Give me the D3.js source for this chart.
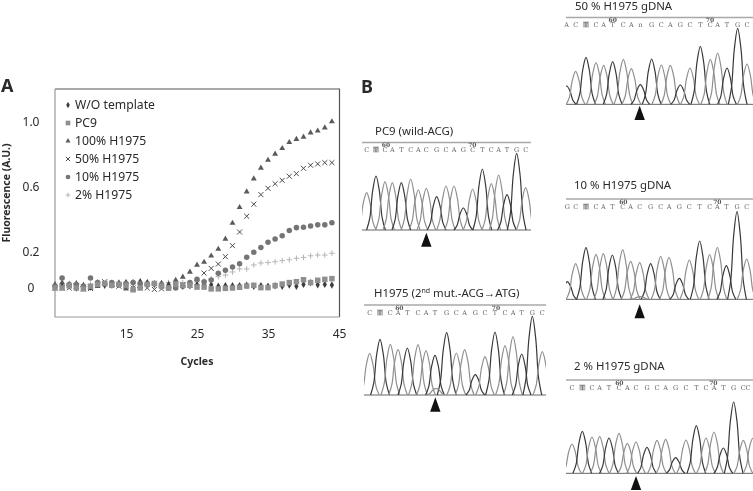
<!DOCTYPE html>
<html><head><meta charset="utf-8">
<script src="https://cdn.jsdelivr.net/npm/d3@7"></script>
<style>html,body{margin:0;padding:0;background:#fff}svg{display:block;filter:blur(0.3px)}text{font-family:"Noto Sans",sans-serif;fill:#2a2a2a}</style>
</head><body><div id="c"></div>
<script>
const firstCycle = 5;
const xTicks = [15, 25, 35, 45];
const yTicks = [0, 0.2, 0.6, 1.0];
const yTickLabels = ["0", "0.2", "0.6", "1.0"];

const seriesNames = ["W/O template", "PC9", "100% H1975", "50% H1975", "10% H1975", "2% H1975"];
// cycles 5..44
const woTemplate = [.005,.01,.012,.0,.01,.005,.02,.015,.02,.02, .03,.03,.035,.03,.02,.025,.02,.015,.01,.012, .015,.02,.018,.01,.012,.012,.012,.015,.01,.012, .01,.012,.01,.016,.01,.02,.03,.018,.02,.017];
const pc9Values = [.0,.0,.012,.0,-.005,.01,.02,.025,.015,.02, .015,-.01,.0,.02,.025,.01,.0,.02,.015,.015, .005,.005,-.005,-.005,-.002,.0,.004,.011,.015,.002, .002,.013,.022,.03,.035,.046,.03,.043,.048,.052];
const h100 = [.02,.03,.02,.025,.015,.0,.01,.02,.02,.03, -.005,-.005,.01,.02,.025,.01,.012,.044,.061,.089, .128,.144,.179,.218,.28,.378,.475,.571,.651,.717, .766,.803,.838,.875,.894,.908,.934,.946,.965,1.002];
const h50 = [.0,.0,.0,.01,-.005,-.003,.02,.035,.02,.01, .01,.0,.015,.0,-.008,-.005,.0,.02,.02,.015, .03,.083,.109,.133,.174,.239,.323,.42,.494,.553, .592,.62,.641,.666,.682,.715,.734,.742,.75,.75];
const h10 = [.01,.055,.02,.02,.01,.055,.03,.025,.03,.02, .025,.03,.025,.02,.025,.02,.0,.0,.01,.03, .048,.035,.044,.082,.098,.117,.135,.171,.198,.228, .26,.28,.3,.332,.35,.352,.36,.367,.367,.38];
const h2 = [.015,.02,.025,.025,.02,.02,.035,.02,.01,.015, .03,.03,.02,.025,.02,.015,.03,.025,.03,.02, .033,.039,.05,.063,.072,.089,.106,.106,.128,.139, .141,.146,.152,.157,.165,.17,.179,.183,.183,.193];

// chromatograms: scan position of each peak, peak signal, called base
const pc9Scan = [20,48,75,97,124,152,175,199,230,258,282,310,338,367,394,416,441,470,497];
const pc9Signal = [112,162,145,142,142,153,120,125,100,132,132,66,123,183,139,165,106,230,127];
const pc9Bases = "CTCATCACGCAGCTCATGC";
const h1975Scan = [29,60,91,114,142,174,198,225,260,289,314,346,375,405,435,459,485,517,547];
const h1975Signal = [125,167,152,137,141,151,133,119,188,126,136,61,115,189,148,175,123,236,130];
const h1975Bases = "CTCATCATGCAGCTCATGC";
const g50Scan = [20,47,78,108,131,158,190,214,241,275,304,331,361,390,421,451,473,501,533,561];
const g50Signal = [55,99,141,125,117,128,135,107,59,136,118,117,58,109,174,135,154,109,228,121];
const g50Bases = "GCTCATCANGCAGCTCATGC";
const g10Scan = [22,47,78,108,130,157,188,212,239,272,302,327,358,388,419,449,472,499,531,560];
const g10Signal = [53,107,155,135,137,133,149,114,110,107,129,126,63,118,175,134,156,101,263,121];
const g10Bases = "GCTCATCACGCAGCTCATGC";
const g2Scan = [36,67,96,119,147,177,202,228,261,291,317,347,378,409,438,462,490,521,550,578];
const g2Signal = [88,126,109,110,106,120,90,94,78,99,102,47,100,143,106,124,76,214,99,105];
const g2Bases = "CTCATCACGCAGCTCATGCC";
const headerBases = {
  pc9: "CTCATCACGCAGCTCATGC",
  h1975: "CTCATCATGCAGCTCATGC",
  g50: "ACTCATCAnGCAGCTCATGC",
  g10: "GCTCATCACGCAGCTCATGC",
  g2: "CTCATCACGCAGCTCATGCC"
};

const W = 753, H = 491;
const svg = d3.select("#c").append("svg").attr("width", W).attr("height", H);
const plot = {l: 55, r: 339.5, t: 89, b: 317};

const x = d3.scaleLinear().domain([5, 45]).range([55, 339]);
const y = d3.scaleLinear().domain(yTicks).range([288, 252, 187, 122]);

svg.append("path").attr("d", `M${plot.l} ${plot.t}H${plot.r}V${plot.b}`).attr("fill", "none").attr("stroke", "#555").attr("stroke-width", 1.2);
svg.append("path").attr("d", `M${plot.l} ${plot.t}V${plot.b}H${plot.r}`).attr("fill", "none").attr("stroke", "#999").attr("stroke-width", 1.2);

const xAxis = d3.axisBottom(x).tickValues(xTicks).tickSize(0).tickPadding(0);
const gx = svg.append("g").attr("transform", "translate(0,330)").call(xAxis);
gx.select(".domain").remove();
gx.selectAll("text").attr("font-size", 12).attr("fill", "#2a2a2a").attr("font-family", '"Noto Sans",sans-serif').attr("y", 0).attr("dy", "0.7em");
const yAxis = d3.axisLeft(y).tickValues(yTicks).tickSize(0).tickFormat((d, i) => yTickLabels[i]);
const gy = svg.append("g").attr("transform", "translate(31,0)").call(yAxis);
gy.select(".domain").remove();
gy.selectAll("text").attr("font-size", 12).attr("fill", "#2a2a2a").attr("font-family", '"Noto Sans",sans-serif').attr("x", 0).attr("text-anchor", "middle");

svg.append("text").attr("x", 197).attr("y", 365).attr("text-anchor", "middle").attr("font-size", 10.5).attr("font-weight", 700).text("Cycles");
svg.append("text").attr("transform", "translate(10,193) rotate(-90)").attr("text-anchor", "middle").attr("font-size", 10.5).attr("font-weight", 700).text("Fluorescence (A.U.)");
svg.append("text").attr("x", 1).attr("y", 92).attr("font-size", 18).attr("font-weight", 700).attr("fill", "#111").text("A");
svg.append("text").attr("x", 361).attr("y", 93).attr("font-size", 18).attr("font-weight", 700).attr("fill", "#111").text("B");

const styles = [
  {sym: d3.symbolDiamond, size: 16, fill: "#3f3f3f"},
  {sym: d3.symbolSquare, size: 30, fill: "#8f8f8f"},
  {sym: d3.symbolTriangle, size: 15, fill: "#5a5a5a"},
  {sym: d3.symbolTimes, size: 18, fill: "none", stroke: "#4a4a4a"},
  {sym: d3.symbolCircle, size: 24, fill: "#757575"},
  {sym: d3.symbolCross, size: 0, fill: "none", stroke: "#b5b5b5", plus: true}
];
const seriesValues = [h2, h50, h100, woTemplate, h10, pc9Values];
const seriesStyle = [5, 3, 2, 0, 4, 1];
const plusPath = r => `M${-r} 0H${r}M0 ${-r}V${r}`;
function drawMark(sel, st, scale) {
  sel.attr("d", st.plus ? plusPath(2.8 * scale) : d3.symbol().type(st.sym).size(st.size * scale * scale)())
     .attr("fill", st.fill).attr("stroke", st.stroke || "none").attr("stroke-width", st.stroke ? 1 : 0);
}
seriesValues.forEach((vals, si) => {
  const st = styles[seriesStyle[si]];
  svg.append("g").selectAll("path").data(vals).join("path")
    .attr("transform", (d, i) => `translate(${x(firstCycle + i)},${y(d)})`)
    .each(function () { drawMark(d3.select(this), st, 1); });
});

const legendY = d3.scalePoint().domain(seriesNames).range([105, 195]);
const leg = svg.append("g").selectAll("g").data(seriesNames).join("g")
  .attr("transform", d => `translate(68,${legendY(d)})`);
leg.append("path").each(function (d, i) { drawMark(d3.select(this), styles[i], 0.85); });
leg.append("text").attr("x", 7).attr("dy", "0.36em").attr("font-size", 12.2).attr("fill", "#222").text(d => d);

const bell = d3.line().curve(d3.curveCatmullRom.alpha(0.5));
const baseTone = b => (b === "T" || b === "G" || b === "N") ? "#383838" : "#8f8f8f";
const panels = [
  {key: "pc9", ox: 360, top: 120, base: 330, line: [362, 531], lineY: 142.5, seqY: 152, scan: pc9Scan, sig: pc9Signal, b: pc9Bases, n60: 78, n70: 337, arrow: [199, 338, 380], title: "PC9 (wild-ACG)", tx: 375, ty: 135},
  {key: "h1975", ox: 360, top: 280, base: 345, line: [364, 546], lineY: 305, seqY: 315, scan: h1975Scan, sig: h1975Signal, b: h1975Bases, n60: 118, n70: 408, arrow: [226, 352, 395], title: null, tx: 374, ty: 297, small: [228, 20]},
  {key: "g50", ox: 560, top: 0, base: 313, line: [566, 753], lineY: 17.5, seqY: 27, scan: g50Scan, sig: g50Signal, b: g50Bases, n60: 158, n70: 450, arrow: [239, 317, 360], title: "50 % H1975 gDNA", tx: 575, ty: 9.5},
  {key: "g10", ox: 560, top: 175, base: 373, line: [566, 753], lineY: 199, seqY: 209, scan: g10Scan, sig: g10Signal, b: g10Bases, n60: 190, n70: 472, arrow: [239, 388, 430], title: "10 % H1975 gDNA", tx: 574, ty: 189, small: [240, 8]},
  {key: "g2", ox: 560, top: 350, base: 370, line: [566, 753], lineY: 380, seqY: 390, scan: g2Scan, sig: g2Signal, b: g2Bases, n60: 178, n70: 460, arrow: [228, 378, 420], title: "2 % H1975 gDNA", tx: 574, ty: 370}
];
const defs = svg.append("defs");
panels.forEach(p => {
  const g = svg.append("g");
  const sx = d3.scaleLinear().domain([0, 1]).range([p.ox, p.ox + 1 / 3]);
  const sy = d3.scaleLinear().domain([0, 1]).range([p.top + p.base / 3, p.top + p.base / 3 - 1 / 3]);
  const baseY = sy(0);
  defs.append("clipPath").attr("id", "clip-" + p.key).append("rect")
    .attr("x", p.line[0]).attr("y", p.lineY).attr("width", p.line[1] - p.line[0]).attr("height", baseY - p.lineY + 0.6);
  g.append("line").attr("x1", p.line[0]).attr("x2", p.line[1]).attr("y1", p.lineY).attr("y2", p.lineY).attr("stroke", "#a8a8a8").attr("stroke-width", 1.6);
  g.append("line").attr("x1", p.line[0]).attr("x2", p.line[1]).attr("y1", baseY).attr("y2", baseY).attr("stroke", "#555").attr("stroke-width", 0.9);
  const traces = g.append("g").attr("clip-path", `url(#clip-${p.key})`);
  const peak = (s, h, b) => {
    const c = sx(s), t = sy(h), w = 9.4;
    const pts = [[c - w, baseY], [c - w * .66, baseY + (t - baseY) * .22], [c - w * .36, baseY + (t - baseY) * .72], [c, t], [c + w * .36, baseY + (t - baseY) * .72], [c + w * .66, baseY + (t - baseY) * .22], [c + w, baseY]];
    traces.append("path").attr("d", bell(pts)).attr("fill", "none").attr("stroke", baseTone(b)).attr("stroke-width", 1.2);
  };
  p.scan.forEach((s, i) => peak(s, p.sig[i], p.b[i]));
  if (p.small) peak(p.small[0], p.small[1], "C");
  const letters = headerBases[p.key].split("");
  const letterX = i => Math.min(sx(p.scan[i]), W - 5);
  const tIndex = letters.indexOf("T");
  g.append("rect").attr("x", letterX(tIndex) - 3).attr("y", p.seqY - 5.5).attr("width", 6).attr("height", 6).attr("fill", "#bbb");
  g.append("g").selectAll("text").data(letters).join("text")
    .attr("x", (d, i) => letterX(i))
    .attr("y", p.seqY).attr("text-anchor", "middle")
    .attr("font-size", 6.5).style("font-family", '"DejaVu Serif",serif').style("fill", "#666").text(d => d);
  [[p.n60, "60"], [p.n70, "70"]].forEach(n => {
    g.append("text").attr("x", sx(n[0])).attr("y", p.seqY - 5.5).attr("text-anchor", "middle")
      .attr("font-size", 6).attr("font-weight", 700).style("font-family", '"DejaVu Serif",serif').style("fill", "#555").text(n[1]);
  });
  const ax = sx(p.arrow[0]), a0 = p.top + p.arrow[1] / 3, a1 = p.top + p.arrow[2] / 3;
  g.append("path").attr("d", `M${ax} ${a0}L${ax + 5.2} ${a1}H${ax - 5.2}Z`).attr("fill", "#111");
  if (p.title) g.append("text").attr("x", p.tx).attr("y", p.ty).attr("font-size", 11.4).text(p.title);
  else {
    const t = g.append("text").attr("x", p.tx).attr("y", p.ty).attr("font-size", 11.4);
    t.append("tspan").text("H1975 (2");
    t.append("tspan").attr("font-size", 7).attr("dy", -4).text("nd");
    t.append("tspan").attr("dy", 4).text(" mut.-ACG\u2192ATG)");
  }
});
</script></body></html>
